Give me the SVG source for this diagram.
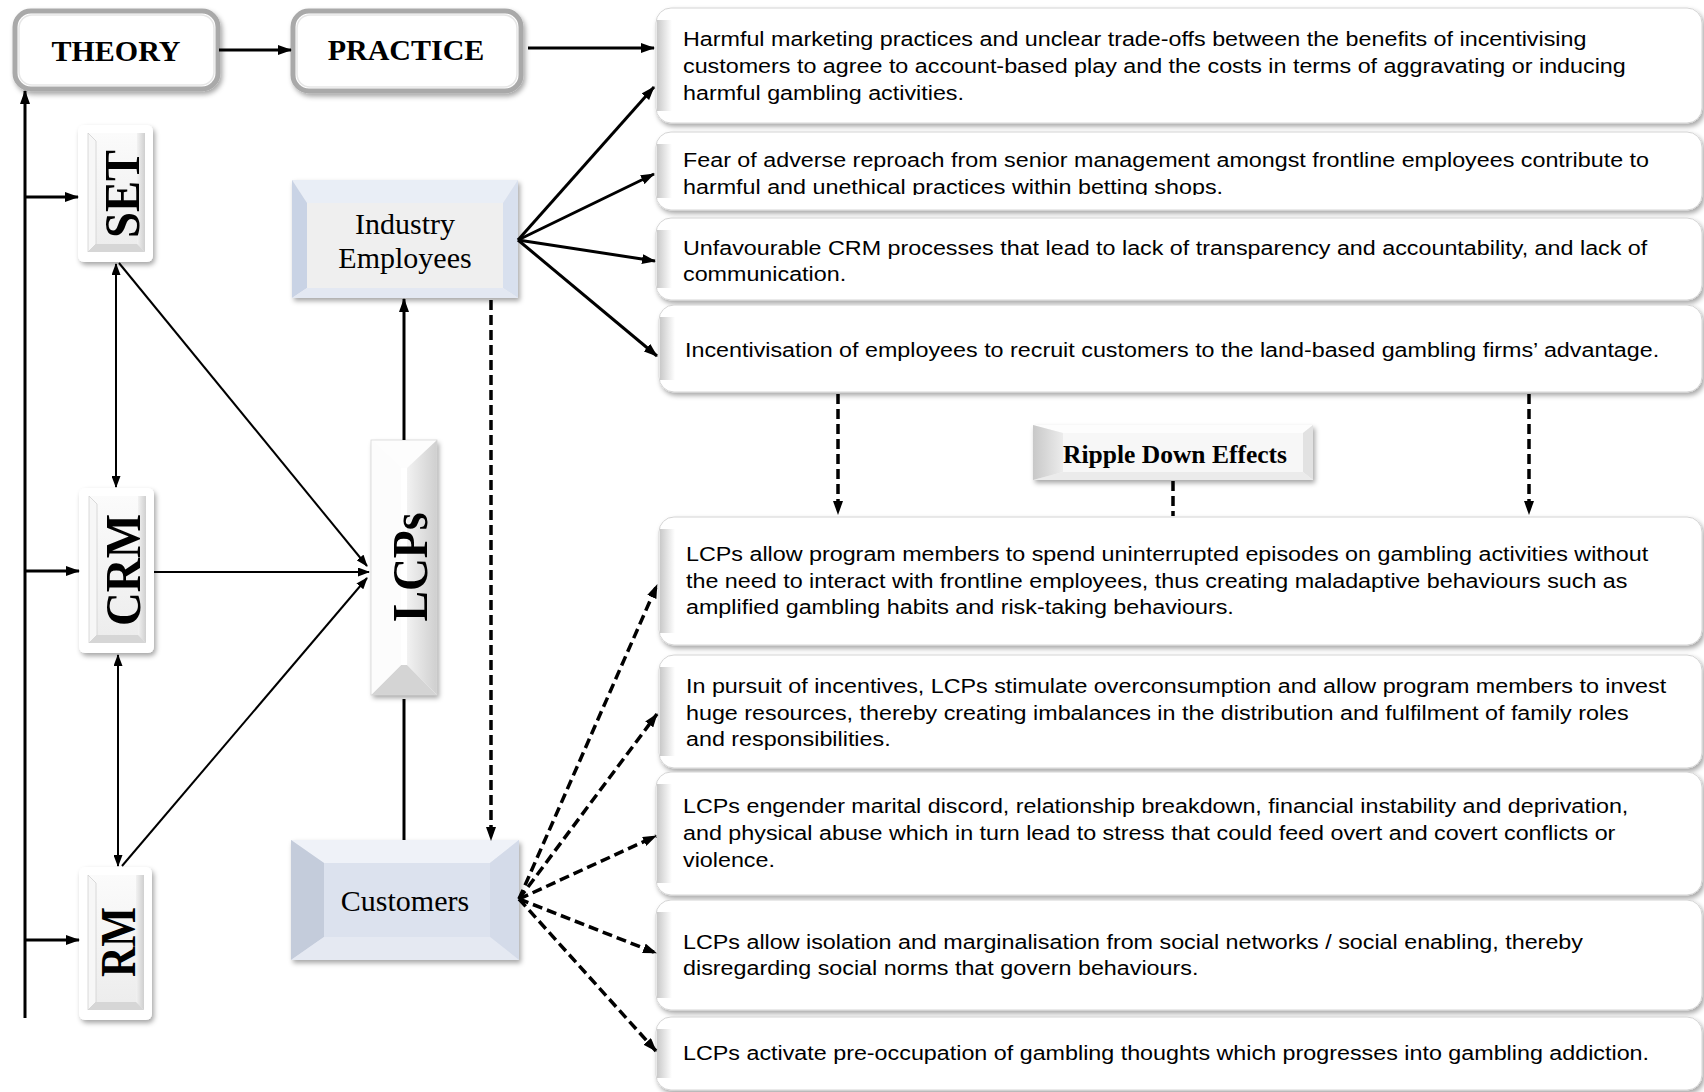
<svg xmlns="http://www.w3.org/2000/svg" width="1704" height="1092" viewBox="0 0 1704 1092">
  <style>
    .serif { font-family: "Liberation Serif", "Times New Roman", serif; fill: #000; }
    .hdr { font-size: 30px; font-weight: bold; text-anchor: middle; }
    .actor { font-size: 30px; text-anchor: middle; }
    .vert { font-size: 51px; font-weight: bold; text-anchor: middle; }
    .fx { font-family: "Liberation Sans", Arial, sans-serif; font-size: 21px; fill: #000; }
    .card { fill: #fff; stroke: #d4d4d4; stroke-width: 1; filter: url(#shadow); }
    .strip { fill: url(#stripGrad); }
    .frame { fill: #fff; stroke: #a9a9a9; stroke-width: 5; filter: url(#shadow); }
    .frameIn { fill: none; stroke: #e6e6e6; stroke-width: 1.5; }
    .solid { fill: none; stroke: #000; stroke-width: 3; }
    .thin { fill: none; stroke: #000; stroke-width: 2; }
    .dash { fill: none; stroke: #000; stroke-width: 3.5; stroke-dasharray: 10 5; }
  </style>
  <defs>
    <filter id="shadow" x="-10%" y="-10%" width="125%" height="130%">
      <feDropShadow dx="2" dy="3" stdDeviation="2.5" flood-color="#000" flood-opacity="0.35"/>
    </filter>
    <linearGradient id="stripGrad" x1="0" y1="0" x2="1" y2="0">
      <stop offset="0" stop-color="#c9c9c9"/>
      <stop offset="1" stop-color="#ffffff"/>
    </linearGradient>
    <linearGradient id="greyRight" x1="0" y1="0" x2="1" y2="0">
      <stop offset="0" stop-color="#f2f2f2"/>
      <stop offset="1" stop-color="#cfcfcf"/>
    </linearGradient>
    <linearGradient id="greyLeft" x1="0" y1="0" x2="1" y2="0">
      <stop offset="0" stop-color="#c8c8c8"/>
      <stop offset="1" stop-color="#ececec"/>
    </linearGradient>
    <linearGradient id="faceGrey" x1="0" y1="0" x2="0" y2="1">
      <stop offset="0" stop-color="#fbfbfb"/>
      <stop offset="1" stop-color="#ececec"/>
    </linearGradient>
    <clipPath id="clipCard2">
      <rect x="660" y="132" width="1040" height="63"/>
    </clipPath>
    <marker id="ah" viewBox="0 0 14 10" refX="13" refY="5" markerWidth="14" markerHeight="10" markerUnits="userSpaceOnUse" orient="auto-start-reverse">
      <path d="M0,0 L14,5 L0,10 z" fill="#000"/>
    </marker>
    <marker id="ahs" viewBox="0 0 12 9" refX="11" refY="4.5" markerWidth="12" markerHeight="9" markerUnits="userSpaceOnUse" orient="auto-start-reverse">
      <path d="M0,0 L12,4.5 L0,9 z" fill="#000"/>
    </marker>
  </defs>

  <!-- header nodes -->
  <g id="theory">
    <rect class="frame" x="15" y="11" width="203" height="78" rx="16"/>
    <rect class="frameIn" x="19" y="15" width="195" height="70" rx="13"/>
    <text class="serif hdr" x="116" y="61">THEORY</text>
  </g>
  <g id="practice">
    <rect class="frame" x="293" y="11" width="228" height="80" rx="16"/>
    <rect class="frameIn" x="297" y="15" width="220" height="72" rx="13"/>
    <text class="serif hdr" x="406" y="60">PRACTICE</text>
  </g>

  <!-- theory pillars -->
  <g id="set">
    <rect x="78" y="125" width="75" height="137" rx="6" fill="#fff" filter="url(#shadow)"/>
    <rect x="88" y="133" width="57" height="119" fill="url(#faceGrey)"/>
    <path d="M137,133 L145,133 L145,252 L137,244 Z" fill="url(#greyRight)"/>
    <path d="M88,252 L145,252 L137,244 L96,244 Z" fill="#d6d6d6"/>
    <path d="M88,133 L96,141 L96,244 L88,252 Z" fill="#f7f7f7" stroke="#d0d0d0" stroke-width="0.8"/>
    <text class="serif vert" transform="translate(139,194) rotate(-90)" textLength="88" lengthAdjust="spacingAndGlyphs">SET</text>
  </g>
  <g id="crm">
    <rect x="79" y="488" width="75" height="165" rx="6" fill="#fff" filter="url(#shadow)"/>
    <rect x="89" y="496" width="57" height="147" fill="url(#faceGrey)"/>
    <path d="M138,496 L146,496 L146,643 L138,635 Z" fill="url(#greyRight)"/>
    <path d="M89,643 L146,643 L138,635 L97,635 Z" fill="#d6d6d6"/>
    <path d="M89,496 L97,504 L97,635 L89,643 Z" fill="#f7f7f7" stroke="#d0d0d0" stroke-width="0.8"/>
    <text class="serif vert" transform="translate(140,570) rotate(-90)" textLength="112" lengthAdjust="spacingAndGlyphs">CRM</text>
  </g>
  <g id="rm">
    <rect x="79" y="867" width="73" height="153" rx="6" fill="#fff" filter="url(#shadow)"/>
    <rect x="88" y="875" width="56" height="135" fill="url(#faceGrey)"/>
    <path d="M136,875 L144,875 L144,1010 L136,1002 Z" fill="url(#greyRight)"/>
    <path d="M88,1010 L144,1010 L136,1002 L96,1002 Z" fill="#d6d6d6"/>
    <path d="M88,875 L96,883 L96,1002 L88,1010 Z" fill="#f7f7f7" stroke="#d0d0d0" stroke-width="0.8"/>
    <text class="serif vert" transform="translate(135,942) rotate(-90)" textLength="70" lengthAdjust="spacingAndGlyphs">RM</text>
  </g>

  <!-- programme node -->
  <g id="lcps">
    <rect x="371" y="440" width="66" height="255" fill="#fff" filter="url(#shadow)"/>
    <path d="M371,440 L437,440 L407,468 L401,468 Z" fill="#fdfdfd"/>
    <path d="M437,440 L437,695 L407,665 L407,468 Z" fill="url(#greyRight)"/>
    <path d="M371,695 L437,695 L407,665 L401,665 Z" fill="#d4d4d4"/>
    <path d="M371,440 L401,468 L401,665 L371,695 Z" fill="#fcfcfc"/>
    <rect x="371" y="440" width="66" height="255" fill="none" stroke="#d8d8d8" stroke-width="0.8"/>
    <text class="serif vert" transform="translate(427,567) rotate(-90)" textLength="109" lengthAdjust="spacingAndGlyphs">LCPs</text>
  </g>

  <!-- actors -->
  <g id="industry-employees">
    <rect x="292" y="180" width="226" height="118" fill="#efefef" filter="url(#shadow)"/>
    <path d="M292,180 L518,180 L503,203 L307,203 Z" fill="#e9eef6"/>
    <path d="M292,180 L307,203 L307,288 L292,298 Z" fill="#c9d3e5"/>
    <path d="M518,180 L518,298 L503,288 L503,203 Z" fill="#d8e0ee"/>
    <path d="M292,298 L518,298 L503,288 L307,288 Z" fill="#e3e8f2"/>
    <rect x="307" y="203" width="196" height="85" fill="#efefef"/>
    <text class="serif actor" x="405" y="234">Industry</text>
    <text class="serif actor" x="405" y="268">Employees</text>
  </g>
  <g id="customers">
    <rect x="291" y="840" width="228" height="120" fill="#dce2ee" filter="url(#shadow)"/>
    <path d="M291,840 L519,840 L490,863 L324,863 Z" fill="#eff2f8"/>
    <path d="M291,840 L324,863 L324,937 L291,960 Z" fill="#c4ccdb"/>
    <path d="M519,840 L519,960 L490,937 L490,863 Z" fill="#d4dbe9"/>
    <path d="M291,960 L519,960 L490,937 L324,937 Z" fill="#e5e9f2"/>
    <rect x="324" y="863" width="166" height="74" fill="#dce2ee"/>
    <text class="serif actor" x="405" y="911">Customers</text>
  </g>

  <!-- ripple label -->
  <g id="ripple-down-effects">
    <rect x="1033" y="425" width="280" height="55" fill="#f6f6f6" filter="url(#shadow)"/>
    <path d="M1033,425 L1313,425 L1303,433 L1063,433 Z" fill="#fdfdfd"/>
    <path d="M1313,425 L1313,480 L1303,472 L1303,433 Z" fill="#e2e2e2"/>
    <path d="M1033,480 L1313,480 L1303,472 L1063,472 Z" fill="#ebebeb"/>
    <path d="M1033,425 L1063,433 L1063,472 L1033,480 Z" fill="url(#greyLeft)"/>
    <rect x="1063" y="433" width="240" height="39" fill="#f7f7f7"/>
    <text class="serif" x="1175" y="463" font-size="25" font-weight="bold" text-anchor="middle" textLength="224" lengthAdjust="spacingAndGlyphs">Ripple Down Effects</text>
  </g>

  <!-- practice outcomes -->
  <g id="outcome-1">
    <rect class="card" x="656" y="8" width="1046" height="115" rx="15"/>
    <rect class="strip" x="657" y="20" width="15" height="91"/>
    <g transform="translate(683,0) scale(1.11,1)">
      <text class="fx" x="0" y="46">Harmful marketing practices and unclear trade-offs between the benefits of incentivising</text>
      <text class="fx" x="0" y="73">customers to agree to account-based play and the costs in terms of aggravating or inducing</text>
      <text class="fx" x="0" y="100">harmful gambling activities.</text>
    </g>
  </g>
  <g id="outcome-2">
    <rect class="card" x="656" y="132" width="1046" height="78" rx="15"/>
    <rect class="strip" x="657" y="144" width="15" height="54"/>
    <g clip-path="url(#clipCard2)">
      <g transform="translate(683,0) scale(1.11,1)">
        <text class="fx" x="0" y="167">Fear of adverse reproach from senior management amongst frontline employees contribute to</text>
        <text class="fx" x="0" y="194">harmful and unethical practices within betting shops.</text>
      </g>
    </g>
  </g>
  <g id="outcome-3">
    <rect class="card" x="656" y="218" width="1046" height="82" rx="15"/>
    <rect class="strip" x="657" y="230" width="15" height="58"/>
    <g transform="translate(683,0) scale(1.11,1)">
      <text class="fx" x="0" y="255">Unfavourable CRM processes that lead to lack of transparency and accountability, and lack of</text>
      <text class="fx" x="0" y="281">communication.</text>
    </g>
  </g>
  <g id="outcome-4">
    <rect class="card" x="659" y="305" width="1043" height="87" rx="15"/>
    <rect class="strip" x="660" y="317" width="15" height="63"/>
    <g transform="translate(685,0) scale(1.11,1)">
      <text class="fx" x="0" y="357">Incentivisation of employees to recruit customers to the land-based gambling firms’ advantage.</text>
    </g>
  </g>

  <!-- ripple-down effects on customers -->
  <g id="effect-1">
    <rect class="card" x="659" y="517" width="1043" height="128" rx="15"/>
    <rect class="strip" x="660" y="529" width="15" height="104"/>
    <g transform="translate(686,0) scale(1.11,1)">
      <text class="fx" x="0" y="561">LCPs allow program members to spend uninterrupted episodes on gambling activities without</text>
      <text class="fx" x="0" y="588">the need to interact with frontline employees, thus creating maladaptive behaviours such as</text>
      <text class="fx" x="0" y="614">amplified gambling habits and risk-taking behaviours.</text>
    </g>
  </g>
  <g id="effect-2">
    <rect class="card" x="659" y="655" width="1043" height="113" rx="15"/>
    <rect class="strip" x="660" y="667" width="15" height="89"/>
    <g transform="translate(686,0) scale(1.11,1)">
      <text class="fx" x="0" y="693">In pursuit of incentives, LCPs stimulate overconsumption and allow program members to invest</text>
      <text class="fx" x="0" y="720">huge resources, thereby creating imbalances in the distribution and fulfilment of family roles</text>
      <text class="fx" x="0" y="746">and responsibilities.</text>
    </g>
  </g>
  <g id="effect-3">
    <rect class="card" x="656" y="772" width="1046" height="123" rx="15"/>
    <rect class="strip" x="657" y="784" width="15" height="99"/>
    <g transform="translate(683,0) scale(1.11,1)">
      <text class="fx" x="0" y="813">LCPs engender marital discord, relationship breakdown, financial instability and deprivation,</text>
      <text class="fx" x="0" y="840">and physical abuse which in turn lead to stress that could feed overt and covert conflicts or</text>
      <text class="fx" x="0" y="867">violence.</text>
    </g>
  </g>
  <g id="effect-4">
    <rect class="card" x="656" y="900" width="1046" height="110" rx="15"/>
    <rect class="strip" x="657" y="912" width="15" height="86"/>
    <g transform="translate(683,0) scale(1.11,1)">
      <text class="fx" x="0" y="949">LCPs allow isolation and marginalisation from social networks / social enabling, thereby</text>
      <text class="fx" x="0" y="975">disregarding social norms that govern behaviours.</text>
    </g>
  </g>
  <g id="effect-5">
    <rect class="card" x="656" y="1017" width="1046" height="73" rx="15"/>
    <rect class="strip" x="657" y="1029" width="15" height="49"/>
    <g transform="translate(683,0) scale(1.11,1)">
      <text class="fx" x="0" y="1060">LCPs activate pre-occupation of gambling thoughts which progresses into gambling addiction.</text>
    </g>
  </g>

  <!-- connectors -->
  <g id="connectors">
    <path class="solid" d="M219,50 L291,50" marker-end="url(#ah)"/>
    <path class="solid" d="M528,48 L654,48" marker-end="url(#ah)"/>
    <path class="solid" d="M25,1018 L25,91" marker-end="url(#ah)"/>
    <path class="solid" d="M25,197 L78,197" marker-end="url(#ah)"/>
    <path class="solid" d="M25,571 L79,571" marker-end="url(#ah)"/>
    <path class="solid" d="M25,940 L79,940" marker-end="url(#ah)"/>

    <path class="thin" d="M116,264 L116,487" marker-start="url(#ahs)" marker-end="url(#ahs)"/>
    <path class="thin" d="M118,655 L118,866" marker-start="url(#ahs)" marker-end="url(#ahs)"/>
    <path class="thin" d="M119,263 L367,566" marker-end="url(#ahs)"/>
    <path class="thin" d="M154,572 L369,572" marker-end="url(#ahs)"/>
    <path class="thin" d="M122,866 L367,578" marker-end="url(#ahs)"/>

    <path class="solid" d="M404,440 L404,299" marker-end="url(#ah)"/>
    <path class="solid" d="M404,699 L404,840" stroke-width="3.5"/>
    <path class="dash" d="M491,300 L491,840" marker-end="url(#ah)"/>

    <path class="solid" d="M518,240 L654,87" marker-end="url(#ah)"/>
    <path class="solid" d="M518,240 L654,174" marker-end="url(#ah)"/>
    <path class="solid" d="M518,240 L655,261" marker-end="url(#ah)"/>
    <path class="solid" d="M518,240 L657,356" marker-end="url(#ah)"/>

    <path class="dash" d="M838,394 L838,514" marker-end="url(#ah)"/>
    <path class="dash" d="M1529,394 L1529,514" marker-end="url(#ah)"/>
    <path class="dash" d="M1173,481 L1173,516" stroke-width="4.5" stroke-dasharray="20 5"/>

    <path class="dash" d="M519,899 L657,585" marker-end="url(#ah)"/>
    <path class="dash" d="M519,899 L657,714" marker-end="url(#ah)"/>
    <path class="dash" d="M519,899 L656,836" marker-end="url(#ah)"/>
    <path class="dash" d="M519,899 L656,953" marker-end="url(#ah)"/>
    <path class="dash" d="M519,899 L656,1051" marker-end="url(#ah)"/>
  </g>
</svg>
